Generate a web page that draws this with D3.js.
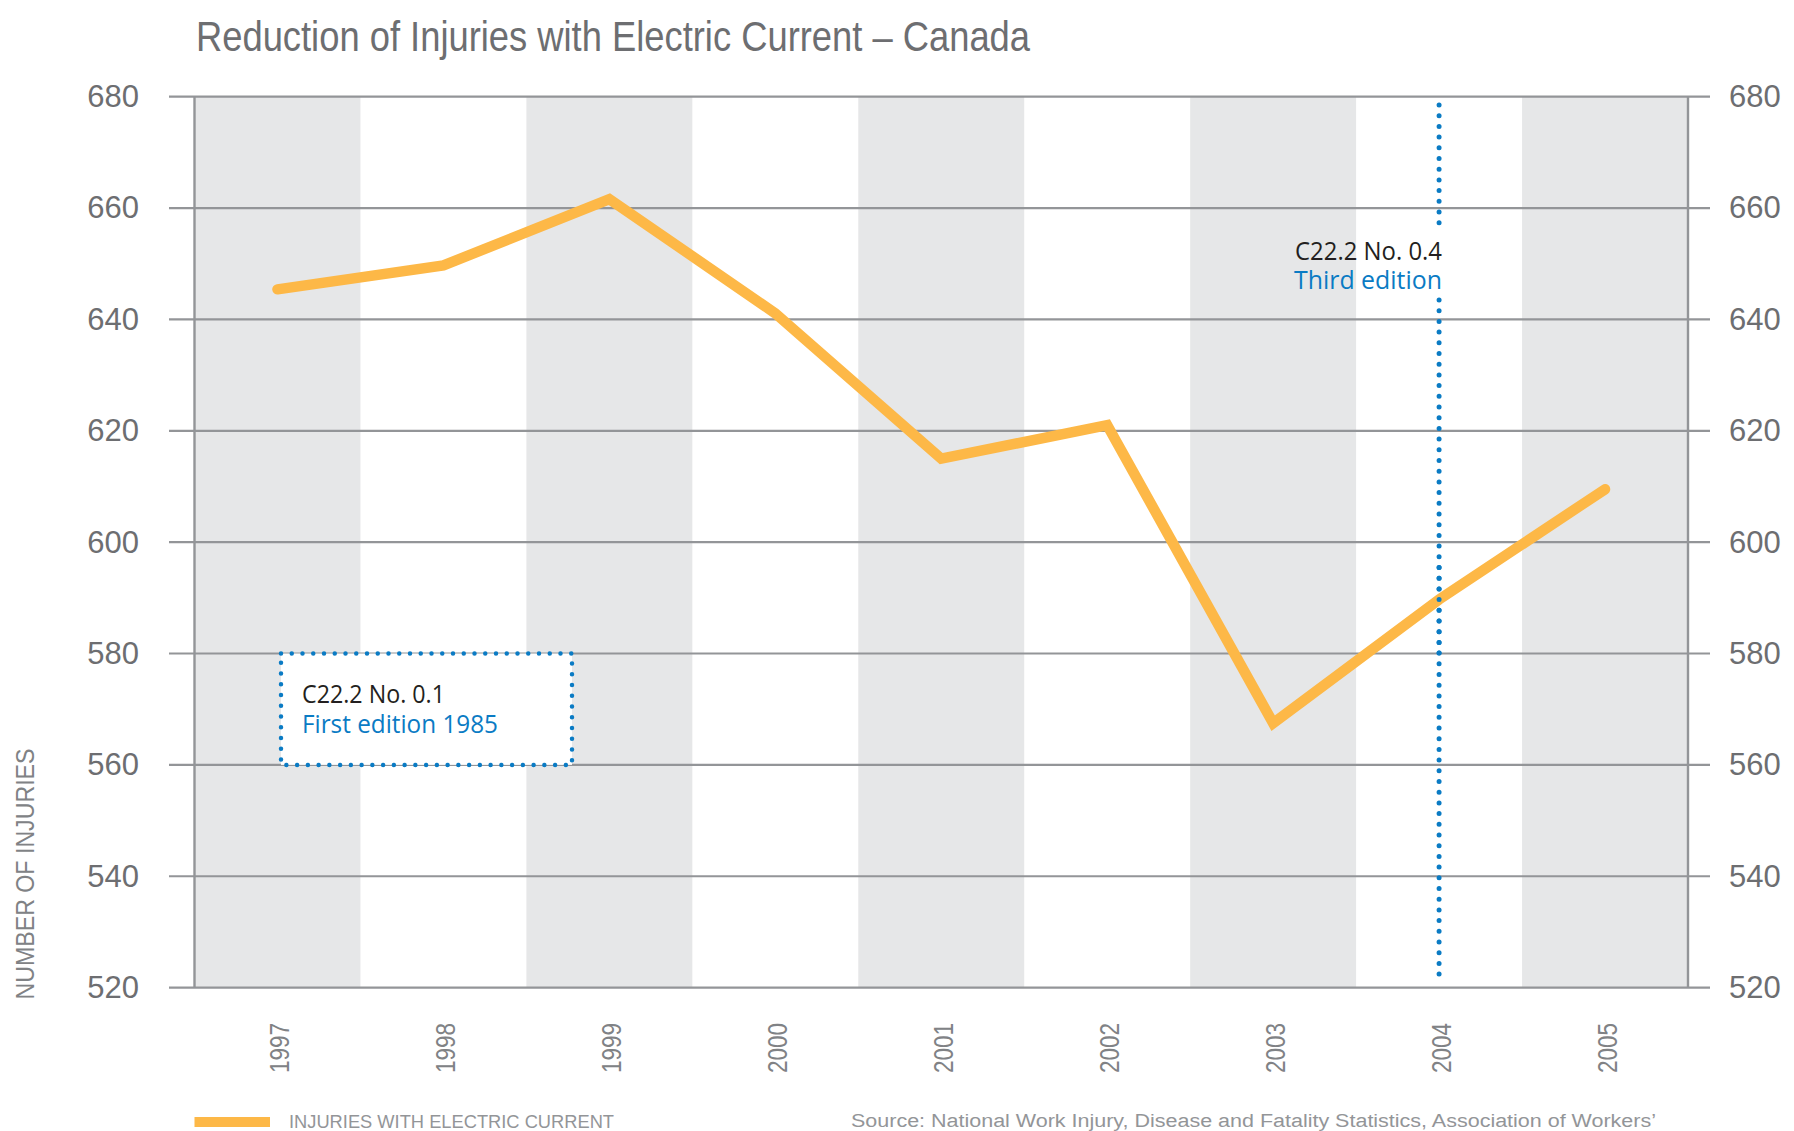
<!DOCTYPE html>
<html>
<head>
<meta charset="utf-8">
<script src="https://cdn.jsdelivr.net/npm/d3@7"></script>
<style>
  body { margin: 0; background: #fff; }
  svg { display: block; }
</style>
</head>
<body>
<script>
// chart data
const years = ["1997", "1998", "1999", "2000", "2001", "2002", "2003", "2004", "2005"];
const injuries = [645.4, 649.7, 661.6, 641.1, 615, 621, 567.5, 589.7, 609.5];
const yTicks = [520, 540, 560, 580, 600, 620, 640, 660, 680];

const titleText = "Reduction of Injuries with Electric Current \u2013 Canada";
const yTitle = "NUMBER OF INJURIES";
const legendText = "INJURIES WITH ELECTRIC CURRENT";
const sourceText = "Source: National Work Injury, Disease and Fatality Statistics, Association of Workers\u2019";

const GREY_TXT = "#6d6e71";
const GRID = "#939598";
const BAND = "#e6e7e8";
const ORANGE = "#fdb847";
const BLUE = "#0a7bc4";

const W = 1794, H = 1131;
const plot = {left: 194.5, right: 1688, top: 96.7, bottom: 987.6};

let svg = d3.select("body")
  .append("svg")
  .attr("width", W)
  .attr("height", H)
  .style("font-family", "'Liberation Sans', Arial, sans-serif");

let x = d3.scaleBand()
  .domain(years)
  .range([plot.left, plot.right])
  .paddingInner(0)
  .paddingOuter(0);

let y = d3.scaleLinear()
  .domain([520, 680])
  .range([plot.bottom, plot.top]);

const cx = d => x(d) + x.bandwidth() / 2;

// alternating grey bands
svg.append("g")
  .selectAll("rect")
  .data(years.filter((d, i) => i % 2 === 0))
  .enter()
  .append("rect")
  .attr("x", d => x(d))
  .attr("y", plot.top)
  .attr("width", x.bandwidth())
  .attr("height", plot.bottom - plot.top)
  .attr("fill", BAND);

// horizontal grid lines
svg.append("g")
  .selectAll("line")
  .data(yTicks)
  .enter()
  .append("line")
  .attr("x1", 169)
  .attr("x2", 1710)
  .attr("y1", d => y(d))
  .attr("y2", d => y(d))
  .attr("stroke", GRID)
  .attr("stroke-width", 2.2);

// vertical frame lines
[plot.left, plot.right].forEach(px => {
  svg.append("line")
    .attr("x1", px).attr("x2", px)
    .attr("y1", plot.top).attr("y2", plot.bottom)
    .attr("stroke", GRID)
    .attr("stroke-width", 2.4);
});

// left axis labels
let leftAxis = svg.append("g")
  .attr("transform", "translate(169,0)")
  .call(d3.axisLeft(y).tickValues(yTicks).tickSize(0).tickPadding(30));
leftAxis.select(".domain").remove();
leftAxis.selectAll("text")
  .attr("fill", GREY_TXT)
  .style("font-size", "31px")
  .style("font-family", "'Liberation Sans', Arial, sans-serif");

// right axis labels
let rightAxis = svg.append("g")
  .attr("transform", "translate(1710,0)")
  .call(d3.axisRight(y).tickValues(yTicks).tickSize(0).tickPadding(19));
rightAxis.select(".domain").remove();
rightAxis.selectAll("text")
  .attr("fill", GREY_TXT)
  .style("font-size", "31px")
  .style("font-family", "'Liberation Sans', Arial, sans-serif");

// year labels (rotated)
let xAxis = svg.append("g")
  .attr("transform", "translate(0,1023)")
  .call(d3.axisBottom(x).tickSize(0));
xAxis.select(".domain").remove();
xAxis.selectAll("text")
  .attr("transform", "rotate(-90)")
  .attr("x", 0)
  .attr("y", 1.5)
  .attr("dy", "0.36em")
  .attr("text-anchor", "end")
  .attr("fill", "#808285")
  .attr("textLength", 50)
  .attr("lengthAdjust", "spacingAndGlyphs")
  .style("font-size", "28px")
  .style("font-family", "'Liberation Sans', Arial, sans-serif");

// 2004 marker: dotted vertical line with a gap for the label
const x2004 = cx("2004");
[[105, 229], [300, 982]].forEach(seg => {
  svg.append("line")
    .attr("x1", x2004).attr("x2", x2004)
    .attr("y1", seg[0]).attr("y2", seg[1])
    .attr("stroke", BLUE)
    .attr("stroke-width", 5)
    .attr("stroke-linecap", "round")
    .attr("stroke-dasharray", "0 10.7");
});

// injuries line
let line = d3.line()
  .x((d, i) => cx(years[i]))
  .y(d => y(d));

svg.append("path")
  .datum(injuries)
  .attr("d", line)
  .attr("fill", "none")
  .attr("stroke", ORANGE)
  .attr("stroke-width", 10.5)
  .attr("stroke-linejoin", "miter")
  .attr("stroke-linecap", "round");

// redraw dots over the line near crossing
svg.append("line")
  .attr("x1", x2004).attr("x2", x2004)
  .attr("y1", 300 + 10.7 * 25).attr("y2", 300 + 10.7 * 34)
  .attr("stroke", BLUE)
  .attr("stroke-width", 5)
  .attr("stroke-linecap", "round")
  .attr("stroke-dasharray", "0 10.7");

// annotation: third edition
let ann = svg.append("g")
  .style("font-family", "'Open Sans', 'Noto Sans', sans-serif")
  .style("font-size", "25px")
  .attr("text-anchor", "end");
ann.append("text")
  .attr("x", 1442).attr("y", 260)
  .attr("fill", "#231f20")
  .attr("textLength", 147)
  .attr("lengthAdjust", "spacingAndGlyphs")
  .text("C22.2 No. 0.4");
ann.append("text")
  .attr("x", 1442).attr("y", 289)
  .attr("fill", BLUE)
  .attr("textLength", 148)
  .attr("lengthAdjust", "spacingAndGlyphs")
  .text("Third edition");

// annotation box: first edition
const boxL = 281, boxR = 572;
svg.append("rect")
  .attr("x", boxL)
  .attr("y", y(580))
  .attr("width", boxR - boxL)
  .attr("height", y(560) - y(580))
  .attr("fill", "#fff")
  .attr("stroke", BLUE)
  .attr("stroke-width", 4.5)
  .attr("stroke-linecap", "round")
  .attr("stroke-dasharray", "0 10.75");

let box = svg.append("g")
  .style("font-family", "'Open Sans', 'Noto Sans', sans-serif")
  .style("font-size", "25px");
box.append("text")
  .attr("x", 302).attr("y", 703)
  .attr("fill", "#231f20")
  .attr("textLength", 143)
  .attr("lengthAdjust", "spacingAndGlyphs")
  .text("C22.2 No. 0.1");
box.append("text")
  .attr("x", 302).attr("y", 733)
  .attr("fill", BLUE)
  .attr("textLength", 196)
  .attr("lengthAdjust", "spacingAndGlyphs")
  .text("First edition 1985");

// title
svg.append("text")
  .attr("x", 196)
  .attr("y", 51)
  .attr("fill", GREY_TXT)
  .attr("textLength", 834)
  .attr("lengthAdjust", "spacingAndGlyphs")
  .style("font-size", "42px")
  .text(titleText);

// y axis title
svg.append("text")
  .attr("transform", "translate(34,874) rotate(-90)")
  .attr("text-anchor", "middle")
  .attr("fill", "#808285")
  .attr("textLength", 251)
  .attr("lengthAdjust", "spacingAndGlyphs")
  .style("font-size", "25px")
  .text(yTitle);

// legend
svg.append("rect")
  .attr("x", plot.left)
  .attr("y", 1117)
  .attr("width", 75.5)
  .attr("height", 10)
  .attr("fill", ORANGE);
svg.append("text")
  .attr("x", 289)
  .attr("y", 1128)
  .attr("fill", "#939598")
  .attr("textLength", 325)
  .attr("lengthAdjust", "spacingAndGlyphs")
  .style("font-size", "18px")
  .text(legendText);

// source
svg.append("text")
  .attr("x", 851)
  .attr("y", 1127)
  .attr("fill", "#939598")
  .attr("textLength", 805)
  .attr("lengthAdjust", "spacingAndGlyphs")
  .style("font-size", "18px")
  .text(sourceText);
</script>
</body>
</html>
